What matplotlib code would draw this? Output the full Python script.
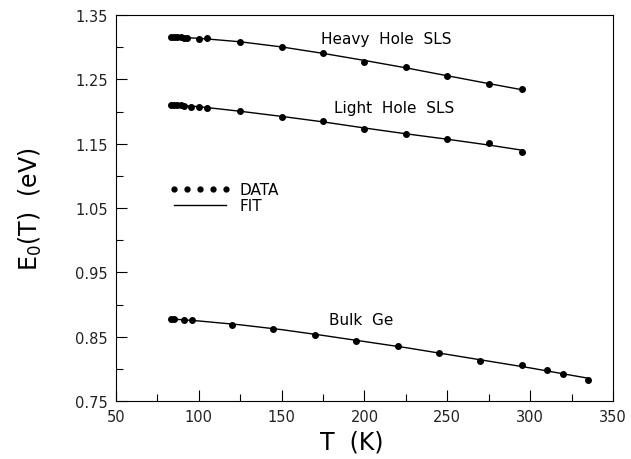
import numpy as np
import matplotlib.pyplot as plt
from matplotlib.lines import Line2D
from matplotlib.ticker import MultipleLocator

# data
T_heavy = [83, 85, 87, 89, 91, 93, 100, 105, 125, 150, 175, 200, 225, 250, 275, 295]
E_heavy = [1.3155, 1.3155, 1.3153, 1.3152, 1.3150, 1.3148, 1.3132, 1.3138, 1.3085,
           1.3000, 1.2905, 1.2774, 1.2687, 1.2557, 1.2432, 1.2345]

T_light = [83, 85, 87, 89, 91, 95, 100, 105, 125, 150, 175, 200, 225, 250, 275, 295]
E_light = [1.2101, 1.2101, 1.2100, 1.2098, 1.2090, 1.2075, 1.2075, 1.2060, 1.2003,
           1.1919, 1.1847, 1.1728, 1.1655, 1.1572, 1.1505, 1.1375]

T_bulk = [83, 85, 91, 96, 120, 145, 170, 195, 220, 245, 270, 295, 310, 320, 335]
E_bulk = [0.8776, 0.8774, 0.8760, 0.8755, 0.8686, 0.8620, 0.8530, 0.8428, 0.8350,
          0.8246, 0.8130, 0.8055, 0.7980, 0.7920, 0.7826]

# fit curves
Tf_sls = [83, 100, 125, 150, 175, 200, 225, 250, 275, 295]
Ef_heavy = [1.3157, 1.3140, 1.3085, 1.3005, 1.2905, 1.2795, 1.2680, 1.2557, 1.2435, 1.2340]
Ef_light = [1.2102, 1.2077, 1.2005, 1.1925, 1.1840, 1.1745, 1.1655, 1.1570, 1.1480, 1.1400]
Tf_bulk = [83, 100, 125, 150, 175, 200, 225, 250, 275, 300, 325, 335]
Ef_bulk = [0.8777, 0.8745, 0.8685, 0.8610, 0.8520, 0.8425, 0.8330, 0.8225, 0.8120,
           0.8015, 0.7900, 0.7855]

fig = plt.figure(figsize=(6.31, 4.60), dpi=100)
ax = fig.add_axes([0.1838, 0.126, 0.7877, 0.839])

for Tf, Ef in [(Tf_sls, Ef_heavy), (Tf_sls, Ef_light), (Tf_bulk, Ef_bulk)]:
    ax.plot(Tf, Ef, '-', color='black', lw=1.0)
for T, E in [(T_heavy, E_heavy), (T_light, E_light), (T_bulk, E_bulk)]:
    ax.plot(T, E, 'o', color='black', ms=4)

ax.set_xlim(50, 350)
ax.set_ylim(0.75, 1.35)
ax.xaxis.set_major_locator(MultipleLocator(50))
ax.xaxis.set_minor_locator(MultipleLocator(25))
ax.yaxis.set_minor_locator(MultipleLocator(0.05))
ax.set_yticks([0.75, 0.85, 0.95, 1.05, 1.15, 1.25, 1.35])
ax.set_yticklabels(['0.75', '0.85', '0.95', '1.05', '1.15', '1.25', '1.35'])
ax.tick_params(which='major', direction='in', length=8, width=0.8, labelsize=10.5,
               labelcolor='#222222', top=False, right=False, pad=6)
ax.tick_params(which='minor', direction='in', length=5, width=0.8, top=False, right=False)
for s in ax.spines.values():
    s.set_linewidth(0.8)

ax.set_xlabel('T  (K)', fontsize=17)
ax.xaxis.set_label_coords(0.475, -0.075)
ax.set_ylabel('E$_0$(T)  (eV)', fontsize=17)
ax.yaxis.set_label_coords(-0.145, 0.5)

ax.text(213, 1.313, 'Heavy  Hole  SLS', fontsize=11, ha='center', va='center')
ax.text(218, 1.207, 'Light  Hole  SLS', fontsize=11, ha='center', va='center')
ax.text(198, 0.8775, 'Bulk  Ge', fontsize=11, ha='center', va='center')

handles = [Line2D([], [], ls='none', marker='o', color='black', ms=3.5),
           Line2D([], [], ls='-', color='black', lw=1.0)]
ax.legend(handles, ['DATA', 'FIT'], numpoints=5, frameon=False, fontsize=11,
          handlelength=4.0, handletextpad=0.6, labelspacing=0.1,
          loc='center left', bbox_to_anchor=(0.08, 0.527))

fig.savefig('out.png', dpi=100)
